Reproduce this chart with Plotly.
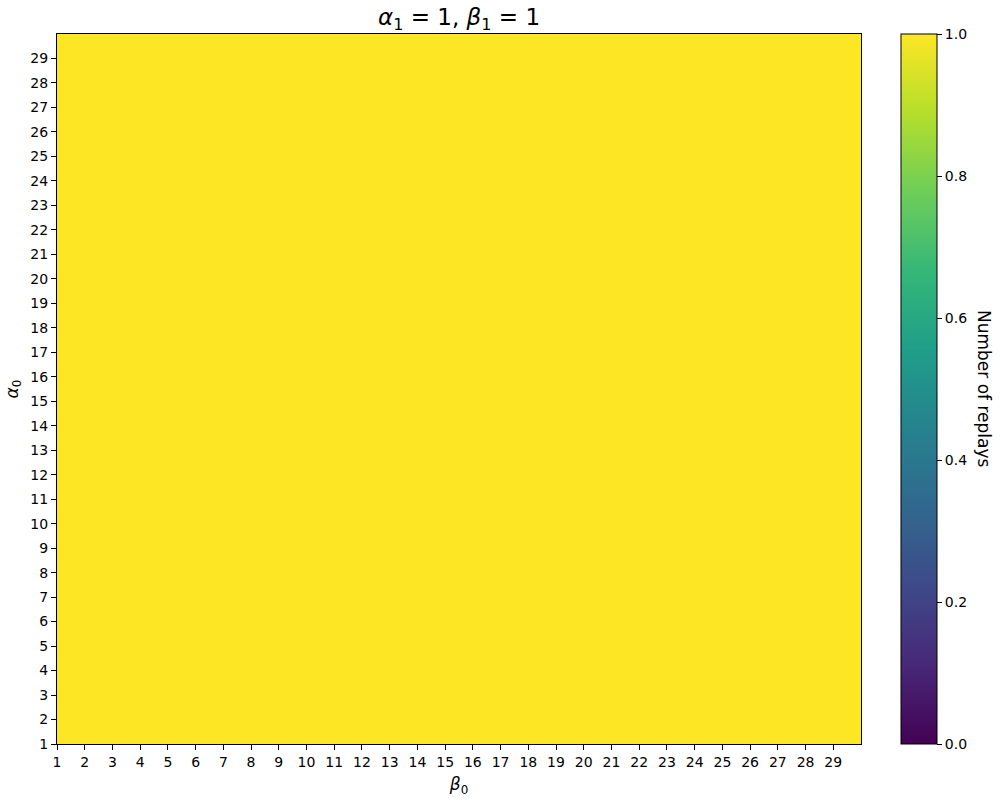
import plotly.graph_objects as go

beta0_edges = list(range(1, 31))   # x cell edges 1..30
alpha0_edges = list(range(1, 31))  # y cell edges 1..30
tick_vals = list(range(1, 30))     # tick labels 1..29
# Number of replays: every cell equals 1
replays = [[1.0 for _ in range(29)] for _ in range(29)]
cbar_ticks = [0.0, 0.2, 0.4, 0.6, 0.8, 1.0]

FONT = "DejaVu Sans"

fig = go.Figure(go.Heatmap(
    x=beta0_edges, y=alpha0_edges, z=replays,
    colorscale="Viridis", zmin=0, zmax=1,
    colorbar=dict(
        thickness=36, thicknessmode="pixels",
        len=1, lenmode="fraction", y=0.5, yanchor="middle", ypad=0,
        x=1.0498, xanchor="left", xpad=0,
        outlinecolor="black", outlinewidth=1,
        tickvals=cbar_ticks, ticktext=[f"{v:.1f}" for v in cbar_ticks],
        ticks="outside", ticklen=5, tickcolor="black",
        tickfont=dict(family=FONT, size=14, color="black"),
    ),
    hoverinfo="skip",
))

axis_common = dict(
    showgrid=False, zeroline=False, showline=True, linecolor="black",
    linewidth=1, mirror=True, ticks="outside", ticklen=5, tickcolor="black",
    tickfont=dict(family=FONT, size=14, color="black"),
    tickvals=tick_vals, ticktext=[str(v) for v in tick_vals],
    automargin=False,
)

fig.add_annotation(
    text="Number of replays", textangle=90, showarrow=False,
    xref="paper", yref="paper", x=(984 - 57) / 804, y=0.5,
    xanchor="center", yanchor="middle",
    font=dict(family=FONT, size=17, color="black"),
)

fig.update_layout(
    width=1000, height=800,
    margin=dict(l=57, r=139, t=34, b=56, autoexpand=False),
    paper_bgcolor="white", plot_bgcolor="white",
    title=dict(text="<i>α</i><sub>1</sub> = 1, <i>β</i><sub>1</sub> = 1",
               x=(57 + 861) / 2 / 1000, xanchor="center",
               y=1 - 17 / 800, yanchor="middle",
               font=dict(family=FONT, size=23, color="black")),
    xaxis=dict(range=[1, 30],
               title=dict(text="<i>β</i><sub>0</sub>", standoff=9,
                          font=dict(family=FONT, size=17, color="black")),
               **axis_common),
    yaxis=dict(range=[1, 30],
               title=dict(text="<i>α</i><sub>0</sub>", standoff=7,
                          font=dict(family=FONT, size=17, color="black")),
               **axis_common),
)

fig.write_html("out.html")
